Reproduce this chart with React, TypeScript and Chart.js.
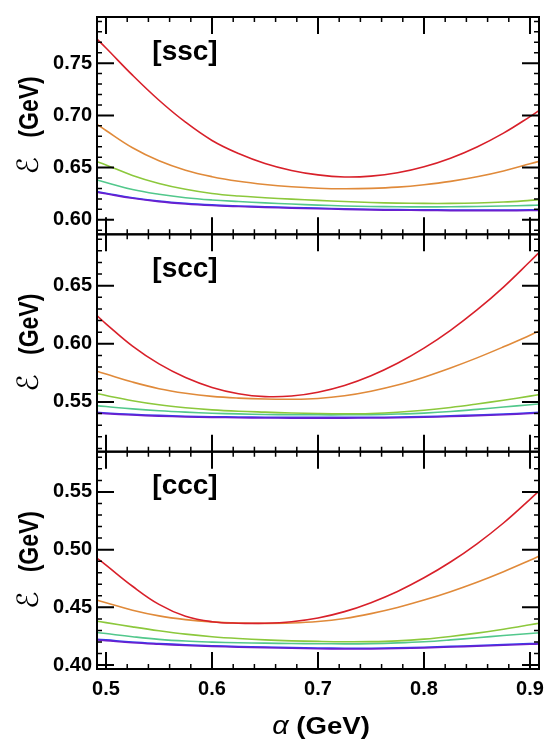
import React, { useEffect, useRef } from 'react';
import { Chart, registerables } from 'chart.js';

Chart.register(...registerables);

// alpha (GeV) sample positions
const alphaValues = [0.49, 0.5, 0.525, 0.55, 0.575, 0.6, 0.625, 0.65, 0.675, 0.7, 0.725, 0.75, 0.775, 0.8, 0.825, 0.85, 0.875, 0.9, 0.91];

// [ssc]
const sscRed = [0.7745, 0.7645, 0.7385, 0.7145, 0.6935, 0.676, 0.6635, 0.654, 0.6473, 0.643, 0.641, 0.6418, 0.645, 0.6508, 0.659, 0.6698, 0.683, 0.6988, 0.7057];
const sscOrange = [0.6925, 0.6855, 0.669, 0.6565, 0.6475, 0.6413, 0.6369, 0.6338, 0.6316, 0.6302, 0.6297, 0.6301, 0.6313, 0.6336, 0.6368, 0.6412, 0.6468, 0.6536, 0.6564];
const sscYellowGreen = [0.6562, 0.6525, 0.6425, 0.6348, 0.6292, 0.6252, 0.6228, 0.6212, 0.6198, 0.6186, 0.6175, 0.6166, 0.616, 0.6157, 0.6157, 0.6161, 0.617, 0.6186, 0.6194];
const sscTeal = [0.6385, 0.6358, 0.629, 0.6245, 0.6212, 0.619, 0.6175, 0.6162, 0.6151, 0.6141, 0.6133, 0.6128, 0.6125, 0.6124, 0.6125, 0.6128, 0.6132, 0.6138, 0.6141];
const sscBlue = [0.6273, 0.6255, 0.6212, 0.618, 0.6158, 0.6143, 0.6133, 0.6125, 0.6118, 0.6112, 0.6106, 0.6101, 0.6098, 0.6096, 0.6094, 0.6094, 0.6094, 0.6095, 0.6096];
const sscPurple = [0.6267, 0.6249, 0.6206, 0.6174, 0.6152, 0.6137, 0.6127, 0.6119, 0.6112, 0.6106, 0.61, 0.6095, 0.6092, 0.609, 0.6088, 0.6088, 0.6088, 0.6089, 0.609];

// [scc]
const sccRed = [0.6255, 0.6172, 0.598, 0.5827, 0.571, 0.5625, 0.5571, 0.5546, 0.5551, 0.5584, 0.5642, 0.5726, 0.5833, 0.5963, 0.6116, 0.6291, 0.6488, 0.6708, 0.6798];
const sccOrange = [0.5768, 0.574, 0.5671, 0.5614, 0.5575, 0.5548, 0.5533, 0.5525, 0.5523, 0.553, 0.5553, 0.5592, 0.5645, 0.5713, 0.5792, 0.5879, 0.5974, 0.6074, 0.6115];
const sccYellowGreen = [0.5575, 0.5555, 0.551, 0.5475, 0.545, 0.5432, 0.542, 0.5412, 0.5405, 0.54, 0.5398, 0.5401, 0.5411, 0.5428, 0.5452, 0.5482, 0.5515, 0.555, 0.5565];
const sccTeal = [0.5468, 0.546, 0.544, 0.5424, 0.5412, 0.5403, 0.5397, 0.5392, 0.539, 0.5389, 0.5389, 0.5391, 0.5396, 0.5404, 0.5417, 0.5436, 0.5456, 0.5476, 0.5483];
const sccBlue = [0.5412, 0.5405, 0.5393, 0.5384, 0.5377, 0.5373, 0.537, 0.5368, 0.5367, 0.5367, 0.5367, 0.5368, 0.537, 0.5374, 0.538, 0.5388, 0.5396, 0.5406, 0.5411];
const sccPurple = [0.5406, 0.5399, 0.5387, 0.5378, 0.5371, 0.5367, 0.5364, 0.5362, 0.5361, 0.5361, 0.5361, 0.5362, 0.5364, 0.5368, 0.5374, 0.5382, 0.539, 0.54, 0.5405];

// [ccc]
const cccRed = [0.4937, 0.4866, 0.4683, 0.4526, 0.4423, 0.4376, 0.4363, 0.4363, 0.4376, 0.4408, 0.4463, 0.4541, 0.4638, 0.4756, 0.4893, 0.5051, 0.5231, 0.5436, 0.552];
const cccOrange = [0.4566, 0.454, 0.4475, 0.4426, 0.4394, 0.4374, 0.4364, 0.4361, 0.4364, 0.4377, 0.4404, 0.4446, 0.4499, 0.4563, 0.4636, 0.4718, 0.4809, 0.4908, 0.495];
const cccYellowGreen = [0.4382, 0.4368, 0.4331, 0.4297, 0.4268, 0.4246, 0.423, 0.4218, 0.421, 0.4205, 0.4202, 0.4203, 0.421, 0.4225, 0.4248, 0.4277, 0.4311, 0.4349, 0.4365];
const cccTeal = [0.4284, 0.4273, 0.4246, 0.4223, 0.4208, 0.4199, 0.4193, 0.419, 0.4187, 0.4185, 0.4184, 0.4186, 0.4192, 0.4202, 0.4218, 0.4237, 0.4256, 0.4274, 0.428];
const cccBlue = [0.4225, 0.4218, 0.42, 0.4187, 0.4176, 0.4168, 0.4161, 0.4157, 0.4152, 0.4148, 0.4146, 0.4146, 0.4149, 0.4155, 0.4162, 0.417, 0.4178, 0.4186, 0.4189];
const cccPurple = [0.4219, 0.4212, 0.4194, 0.4181, 0.417, 0.4162, 0.4155, 0.4151, 0.4146, 0.4142, 0.414, 0.414, 0.4143, 0.4149, 0.4156, 0.4164, 0.4172, 0.418, 0.4183];

// tick labels
const xTickValues = [0.5, 0.6, 0.7, 0.8, 0.9];
const sscTickValues = [0.6, 0.65, 0.7, 0.75];
const sccTickValues = [0.55, 0.6, 0.65];
const cccTickValues = [0.4, 0.45, 0.5, 0.55];
const panelLabels = ['[ssc]', '[scc]', '[ccc]'];

const xRange = [0.4915, 0.9085];
const sscRange = [0.5861, 0.7942];
const sccRange = [0.5072, 0.6942];
const cccRange = [0.3966, 0.5849];

const colors = ['#d8202a', '#e08a3a', '#8cc83c', '#52c88c', '#2f44ee', '#6a1fcf'];

const TICK_FONT = { family: '"Liberation Sans", Arial, sans-serif', size: 20, weight: 'bold' as const };

const panelsPlugin = {
  id: 'panelsPlugin',
  afterDraw(chart: any) {
    const ctx = chart.ctx as CanvasRenderingContext2D;
    const xs = chart.scales.x;
    const area = chart.chartArea;
    ['y1', 'y2', 'y3'].forEach((id, i) => {
      const s = chart.scales[id];
      const top = s.top;
      const bottom = s.bottom;
      const left = area.left;
      const right = area.right;
      ctx.save();
      ctx.strokeStyle = '#000';
      ctx.fillStyle = '#000';
      // x ticks (inward, top and bottom edges)
      for (let k = 50; k <= 90; k += 2) {
        const major = k % 10 === 0;
        const px = xs.getPixelForValue(k / 100);
        const len = major ? 17 : 5;
        ctx.lineWidth = major ? 2 : 1.5;
        ctx.beginPath();
        ctx.moveTo(px, top);
        ctx.lineTo(px, top + len);
        ctx.moveTo(px, bottom);
        ctx.lineTo(px, bottom - len);
        ctx.stroke();
      }
      // y ticks (inward, left and right edges)
      const kMin = Math.ceil(s.min * 100 - 1e-6);
      const kMax = Math.floor(s.max * 100 + 1e-6);
      for (let k = kMin; k <= kMax; k++) {
        const major = k % 5 === 0;
        const py = s.getPixelForValue(k / 100);
        const len = major ? 17 : 5;
        ctx.lineWidth = major ? 2 : 1.5;
        ctx.beginPath();
        ctx.moveTo(left, py);
        ctx.lineTo(left + len, py);
        ctx.moveTo(right, py);
        ctx.lineTo(right - len, py);
        ctx.stroke();
      }
      // frame
      ctx.lineWidth = 2;
      ctx.strokeRect(left, top, right - left, bottom - top);
      // panel label
      ctx.font = 'bold 28px "Liberation Sans", Arial, sans-serif';
      ctx.textAlign = 'center';
      ctx.textBaseline = 'middle';
      ctx.fillText(panelLabels[i], 185, top + 35);
      // y title (rotated): script E then bold (GeV)
      ctx.save();
      ctx.translate(30, (top + bottom) / 2);
      ctx.rotate(-Math.PI / 2);
      ctx.textBaseline = 'middle';
      ctx.font = '29px "DejaVu Sans", sans-serif';
      ctx.textAlign = 'center';
      ctx.fillText('ℰ', -40, 0);
      ctx.scale(1, 1.2);
      ctx.font = 'bold 23px "Liberation Sans", Arial, sans-serif';
      ctx.textAlign = 'left';
      ctx.fillText('(GeV)', -12, 0);
      ctx.restore();
      ctx.restore();
    });
    // x title
    ctx.save();
    ctx.fillStyle = '#000';
    ctx.textBaseline = 'middle';
    ctx.textAlign = 'left';
    const cx = (area.left + area.right) / 2 + 3;
    ctx.translate(cx, 727);
    ctx.scale(1.15, 1);
    const fa = 'italic 25px "Liberation Sans", Arial, sans-serif';
    const fb = 'bold 24px "Liberation Sans", Arial, sans-serif';
    ctx.font = fa;
    const wa = ctx.measureText('α').width;
    ctx.font = fb;
    const wb = ctx.measureText(' (GeV)').width;
    const st = -(wa + wb) / 2;
    ctx.font = fa;
    ctx.fillText('α', st, 0);
    ctx.font = fb;
    ctx.fillText(' (GeV)', st + wa, 0);
    ctx.restore();
  },
};

function makeSet(values: number[], color: string, axis: string) {
  return {
    data: alphaValues.map((a, i) => ({ x: a, y: values[i] })),
    borderColor: color,
    backgroundColor: color,
    borderWidth: 1.6,
    pointRadius: 0,
    tension: 0.4,
    yAxisID: axis,
    xAxisID: 'x',
    fill: false,
  };
}

function yScale(range: number[], ticksVals: number[], weight: number) {
  return {
    type: 'linear' as const,
    position: 'left' as const,
    stack: 'panels',
    stackWeight: 1,
    weight,
    min: range[0],
    max: range[1],
    grid: { display: false, drawTicks: false },
    border: { display: false },
    ticks: {
      font: TICK_FONT,
      color: '#000',
      padding: 5,
      callback: (v: any) => Number(v).toFixed(2),
    },
    afterBuildTicks: (s: any) => {
      s.ticks = ticksVals.map((v) => ({ value: v }));
    },
    afterFit: (s: any) => {
      s.width = 97;
    },
  };
}

export default function App() {
  const ref = useRef<HTMLCanvasElement | null>(null);
  useEffect(() => {
    if (!ref.current) return;
    const groups: [number[][], string][] = [
      [[sscRed, sscOrange, sscYellowGreen, sscTeal, sscPurple, sscBlue], 'y1'],
      [[sccRed, sccOrange, sccYellowGreen, sccTeal, sccPurple, sccBlue], 'y2'],
      [[cccRed, cccOrange, cccYellowGreen, cccTeal, cccPurple, cccBlue], 'y3'],
    ];
    const colorOrder = [colors[0], colors[1], colors[2], colors[3], colors[5], colors[4]];
    const datasets: any[] = [];
    groups.forEach(([series, axis]) => {
      series.forEach((vals, j) => datasets.push(makeSet(vals, colorOrder[j], axis)));
    });
    const chart = new Chart(ref.current, {
      type: 'line',
      data: { datasets },
      options: {
        animation: false,
        responsive: false,
        maintainAspectRatio: false,
        layout: { padding: { top: 7.5, right: 20, left: 0, bottom: 0 } },
        plugins: { legend: { display: false }, tooltip: { enabled: false } },
        scales: {
          x: {
            type: 'linear',
            position: 'bottom',
            min: xRange[0],
            max: xRange[1],
            grid: { display: false, drawTicks: false },
            border: { display: false },
            ticks: {
              font: TICK_FONT,
              color: '#000',
              padding: 8,
              maxRotation: 0,
              callback: (v: any) => Number(v).toFixed(1),
            },
            afterBuildTicks: (s: any) => {
              s.ticks = xTickValues.map((v) => ({ value: v }));
            },
            afterFit: (s: any) => {
              s.height = 70;
            },
          },
          y1: yScale(sscRange, sscTickValues, 3),
          y2: yScale(sccRange, sccTickValues, 2),
          y3: yScale(cccRange, cccTickValues, 1),
        } as any,
      },
      plugins: [panelsPlugin],
    });
    return () => chart.destroy();
  }, []);
  return (
    <div style={{ position: 'absolute', left: 0, top: 0, width: 559, height: 739, background: '#fff' }}>
      <canvas ref={ref} width={559} height={739} style={{ display: 'block' }} />
    </div>
  );
}
